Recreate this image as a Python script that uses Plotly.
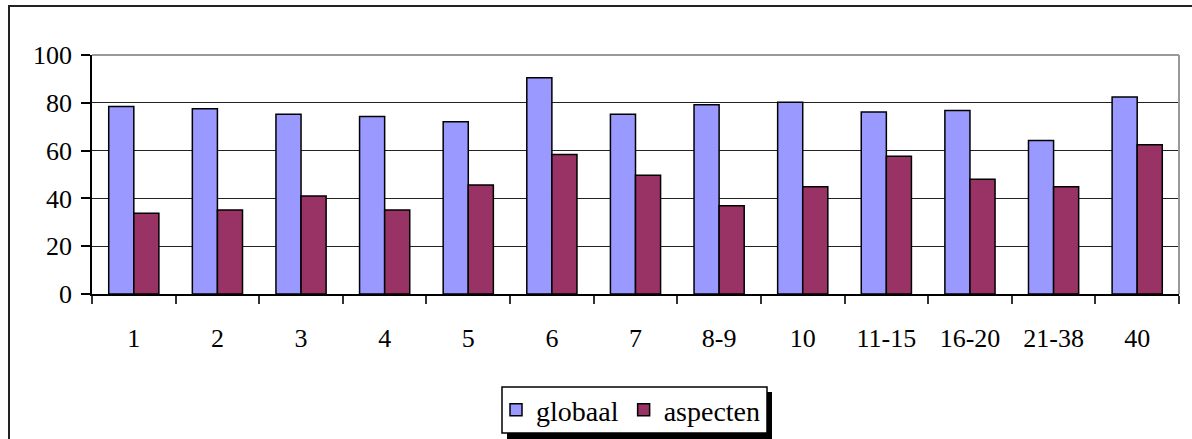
import plotly.graph_objects as go

categories = ["1", "2", "3", "4", "5", "6", "7", "8-9", "10", "11-15", "16-20", "21-38", "40"]
globaal = [78.4, 77.5, 75.2, 74.3, 72.1, 90.5, 75.2, 79.2, 80.2, 76.2, 76.8, 64.2, 82.4]
aspecten = [33.8, 35.1, 41.0, 35.1, 45.6, 58.4, 49.7, 36.9, 44.9, 57.6, 48.0, 44.9, 62.5]
y_ticks = [0, 20, 40, 60, 80, 100]

FONT = "Liberation Serif, serif"
W, H = 1192, 439
L, R, T, B = 92, 13, 55, 145
PW, PH = W - L - R, H - T - B


def px_x(px):
    return (px - L) / PW


def px_y(py):
    return (H - B - py) / PH


fig = go.Figure()
fig.add_trace(go.Bar(
    x=categories, y=globaal, name="globaal",
    marker=dict(color="#9999FF", line=dict(color="black", width=1.5)),
))
fig.add_trace(go.Bar(
    x=categories, y=aspecten, name="aspecten",
    marker=dict(color="#993366", line=dict(color="black", width=1.5)),
))

shapes = [
    # outer chart frame
    dict(type="rect", xref="paper", yref="paper",
         x0=px_x(9), x1=px_x(1250), y0=px_y(500), y1=px_y(6),
         line=dict(color="#222", width=2), fillcolor="rgba(0,0,0,0)", layer="below"),
    # plot area border (top and right)
    dict(type="line", xref="paper", yref="paper", x0=0, x1=1, y0=1, y1=1,
         line=dict(color="#999", width=2)),
    dict(type="line", xref="paper", yref="paper", x0=1, x1=1, y0=0, y1=1,
         line=dict(color="#999", width=2)),
    # legend drop shadow and legend box
    dict(type="rect", xref="paper", yref="paper",
         x0=px_x(507), x1=px_x(772), y0=px_y(442), y1=px_y(392),
         line=dict(width=0), fillcolor="black", layer="above"),
    dict(type="rect", xref="paper", yref="paper",
         x0=px_x(502), x1=px_x(767), y0=px_y(433), y1=px_y(387),
         line=dict(color="black", width=1.5), fillcolor="white", layer="above"),
]

fig.update_layout(
    width=W, height=H,
    margin=dict(l=L, r=R, t=T, b=B, autoexpand=False),
    paper_bgcolor="white", plot_bgcolor="white",
    font=dict(family=FONT, size=26, color="black"),
    barmode="group", bargap=0.40, bargroupgap=0,
    showlegend=True,
    legend=dict(
        orientation="h", x=px_x(496), y=px_y(410), xanchor="left", yanchor="middle",
        bgcolor="rgba(0,0,0,0)", borderwidth=0,
        font=dict(family=FONT, size=28, color="black"),
    ),
    shapes=shapes,
    xaxis=dict(
        type="category", showgrid=False, showline=True, linecolor="black", linewidth=1.5,
        ticks="outside", tickson="boundaries", ticklen=8, tickcolor="#333", tickwidth=1.5,
        ticklabelstandoff=20, tickfont=dict(family=FONT, size=26), automargin=False,
    ),
    yaxis=dict(
        range=[0, 100], tickvals=y_ticks, showgrid=True, gridcolor="#222", gridwidth=1,
        showline=True, linecolor="black", linewidth=1.5, zeroline=False,
        ticks="outside", ticklen=9, tickcolor="black", tickwidth=1.5,
        ticklabelstandoff=4, tickfont=dict(family=FONT, size=26), automargin=False,
    ),
)

fig.write_html("out.html")
